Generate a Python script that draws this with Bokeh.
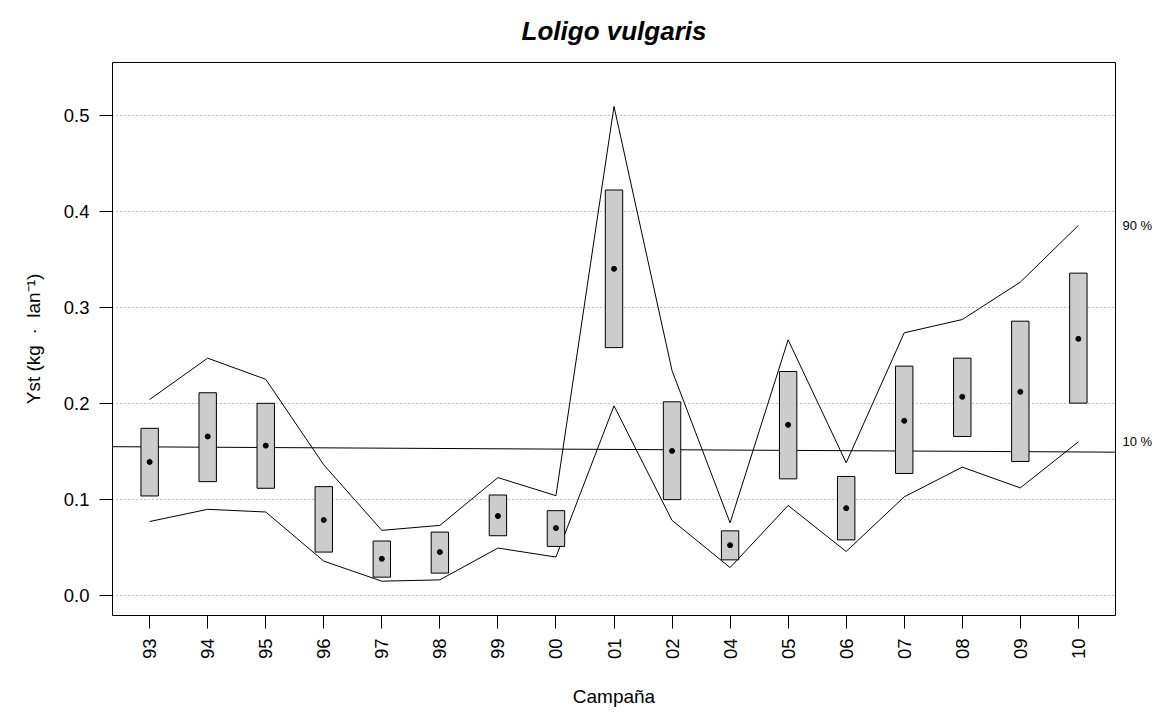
import math
from bokeh.plotting import figure
from bokeh.models import Range1d, FixedTicker, LinearAxis, Slope, ColumnDataSource, PrintfTickFormatter
from bokeh.embed import file_html
from bokeh.resources import INLINE

# ---- data ----
campaigns = ["93", "94", "95", "96", "97", "98", "99", "00", "01", "02",
             "04", "05", "06", "07", "08", "09", "10"]
yst = [0.139, 0.1655, 0.156, 0.0786, 0.0382, 0.0452, 0.0827, 0.0702, 0.340, 0.1505,
       0.0524, 0.1776, 0.0909, 0.1818, 0.2068, 0.212, 0.2671]
box_low = [0.1036, 0.1185, 0.1116, 0.0452, 0.0191, 0.0233, 0.0622, 0.0511, 0.258, 0.0998,
           0.0371, 0.1214, 0.0579, 0.127, 0.1655, 0.1395, 0.2002]
box_high = [0.174, 0.211, 0.200, 0.1133, 0.0567, 0.066, 0.1046, 0.0883, 0.422, 0.2016,
            0.0673, 0.2331, 0.1239, 0.2387, 0.247, 0.2855, 0.3355]
p90 = [0.204, 0.247, 0.225, 0.136, 0.0678, 0.073, 0.1227, 0.1039, 0.509, 0.234,
       0.0756, 0.2661, 0.1381, 0.2734, 0.2872, 0.3261, 0.3851]
p10 = [0.077, 0.0897, 0.0869, 0.0358, 0.0149, 0.0163, 0.0494, 0.040, 0.1974, 0.0782,
       0.0291, 0.0937, 0.0458, 0.1027, 0.1336, 0.112, 0.1599]
trend_intercept = 0.1550
trend_slope = -0.00033
y_ticks = [0.0, 0.1, 0.2, 0.3, 0.4, 0.5]
pct_labels = ["90 %", "10 %"]
title_text = "Loligo vulgaris"

FONT = "Liberation Sans"
idx = list(range(1, len(campaigns) + 1))
half = 0.15

src = ColumnDataSource(dict(
    x=idx, y=yst, lo=box_low, hi=box_high, p90=p90, p10=p10,
    left=[i - half for i in idx], right=[i + half for i in idx],
))

p = figure(width=1161, height=720,
           x_range=Range1d(0.36, 17.64), y_range=Range1d(-0.0208, 0.5547),
           output_backend="svg", toolbar_location=None,
           min_border_left=112, min_border_right=46,
           min_border_top=62, min_border_bottom=105)
p.background_fill_color = "white"
p.border_fill_color = "white"
p.outline_line_color = "black"
p.outline_line_width = 1
p.outline_line_alpha = 1.0

# title
p.title.text = title_text
p.title.text_font = FONT
p.title.text_font_style = "bold italic"
p.title.text_font_size = "26px"
p.title.align = "center"
p.title.vertical_align = "top"
p.title.text_color = "black"
p.title.standoff = 30

# x axis
xa = p.xaxis[0]
xa.ticker = FixedTicker(ticks=idx)
xa.major_label_overrides = {i: c for i, c in zip(idx, campaigns)}
xa.major_label_orientation = math.pi / 2
xa.axis_label = "Campaña"

# y axis
ya = p.yaxis[0]
ya.ticker = FixedTicker(ticks=y_ticks)
ya.formatter = PrintfTickFormatter(format="%.1f")
ya.axis_label = "Yst (kg\u00a0\u00a0·\u00a0\u00a0lan⁻¹)"

for ax in (xa, ya):
    ax.axis_line_color = None
    ax.major_tick_line_color = "black"
    ax.major_tick_out = 13
    ax.major_tick_in = 0
    ax.minor_tick_line_color = None
    ax.major_label_text_font = FONT
    ax.major_label_text_font_size = "18.5px"
    ax.major_label_text_color = "black"
    ax.major_label_standoff = 10
    ax.axis_label_text_font = FONT
    ax.axis_label_text_font_size = "19px"
    ax.axis_label_text_font_style = "normal"
    ax.axis_label_text_color = "black"
xa.axis_label_standoff = 24
ya.axis_label_standoff = 17

# grid
p.xgrid.visible = False
p.ygrid.ticker = FixedTicker(ticks=y_ticks)
p.ygrid.grid_line_color = "#808080"
p.ygrid.grid_line_dash = "1 3"
p.ygrid.grid_line_width = 1

# right-side percentile labels
ra = LinearAxis(ticker=FixedTicker(ticks=[p90[-1], p10[-1]]))
ra.major_label_overrides = {p90[-1]: pct_labels[0], p10[-1]: pct_labels[1]}
ra.axis_line_color = None
ra.major_tick_line_color = None
ra.major_tick_out = 0
ra.major_tick_in = 0
ra.minor_tick_line_color = None
ra.minor_tick_out = 0
ra.major_label_standoff = 7
ra.major_label_text_font = FONT
ra.major_label_text_font_size = "13px"
ra.major_label_text_color = "black"
p.add_layout(ra, "right")

# trend line
p.add_layout(Slope(gradient=trend_slope, y_intercept=trend_intercept,
                   line_color="black", line_width=1, level="underlay"))

# percentile lines
p.line("x", "p90", source=src, line_color="black", line_width=1)
p.line("x", "p10", source=src, line_color="black", line_width=1)

# boxes
p.quad(left="left", right="right", bottom="lo", top="hi", source=src,
       fill_color="#cccccc", line_color="black", line_width=1)

# points
p.scatter("x", "y", source=src, size=5, color="black")

open("out.html", "w").write(file_html(p, INLINE))
